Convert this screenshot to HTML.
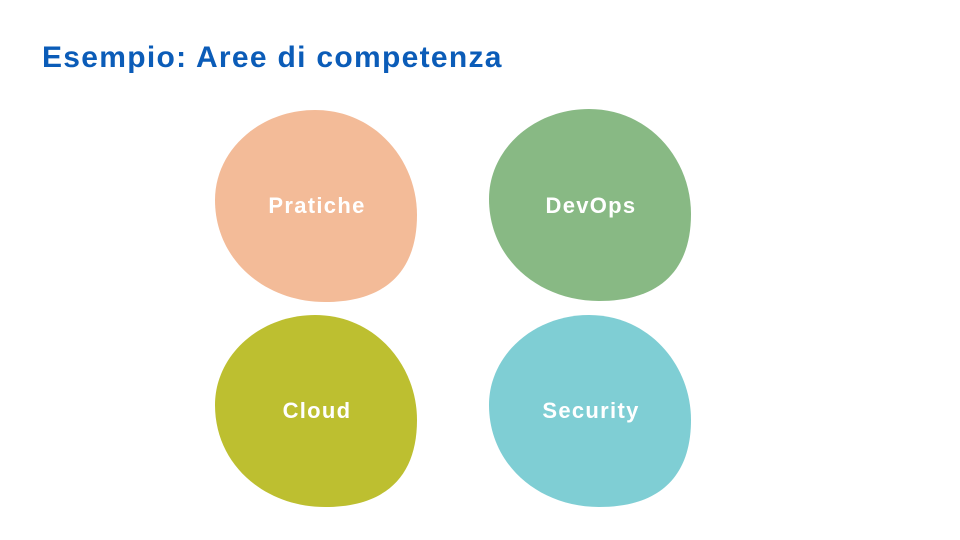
<!DOCTYPE html>
<html><head><meta charset="utf-8"><style>
body{margin:0;width:960px;height:540px;background:#fff;overflow:hidden;font-family:"Liberation Sans",sans-serif}
h1{position:absolute;left:42px;top:41px;margin:0;font-size:30px;font-weight:bold;color:#0b5cb8;letter-spacing:1.3px}
svg{position:absolute;left:0;top:0}
</style></head><body>
<h1>Esempio: Aree di competenza</h1>
<svg width="960" height="540">
<defs><path id="b" d="M100,0 C160,0 202,50 202,105 C202,160 172,192 110,192 C50,192 0,150 0,90 C0,40 45,0 100,0 Z"/></defs>
<use href="#b" x="215" y="110" fill="#f3bb98"/>
<use href="#b" x="489" y="109" fill="#88b984"/>
<use href="#b" x="215" y="315" fill="#bdbf30"/>
<use href="#b" x="489" y="315" fill="#7fced4"/>
<g fill="#fff" font-family="Liberation Sans, sans-serif" font-weight="bold" font-size="22" letter-spacing="1.3" text-anchor="middle">
<text x="317" y="213">Pratiche</text>
<text x="591" y="213">DevOps</text>
<text x="317" y="418">Cloud</text>
<text x="591" y="418">Security</text>
</g>
</svg>
</body></html>
